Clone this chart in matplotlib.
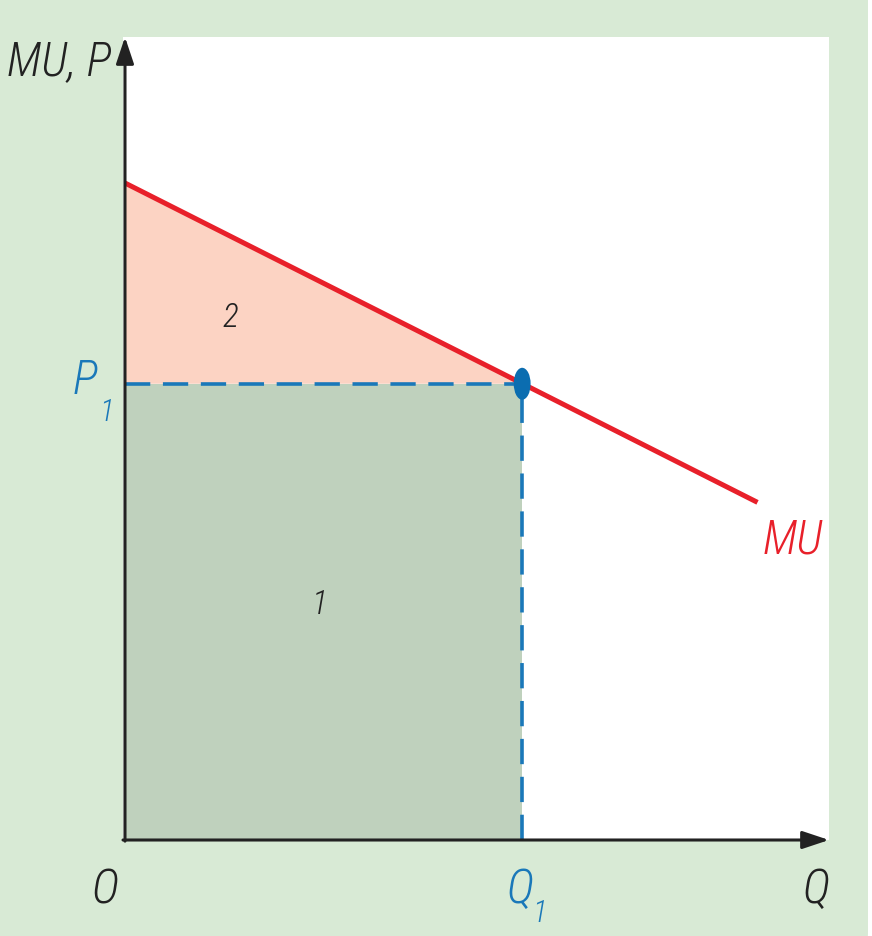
import matplotlib.pyplot as plt
from matplotlib.patches import Ellipse, Polygon, Rectangle, FancyBboxPatch
from matplotlib import font_manager

# values (arbitrary units)
q1 = 4.0
p1 = 4.0
mu_q = [0.0, 6.37]
mu_p = [5.76, 2.96]
x_max = 7.09
y_max = 7.04

bg = '#d8ead5'
red = '#e8202a'
blue = '#1a78b9'
dark = '#222222'

# a narrow italic sans, if one is installed
italic_fams = {f.name for f in font_manager.fontManager.ttflist if f.style == 'italic'}
all_fams = {f.name for f in font_manager.fontManager.ttflist}
wish = ['Roboto Condensed', 'Fira Sans Condensed', 'PT Sans Narrow', 'Archivo Narrow',
        'Liberation Sans Narrow', 'Encode Sans Condensed', 'IBM Plex Sans Condensed',
        'Barlow Semi Condensed', 'Open Sans Condensed']
fam = [w for w in wish if w in italic_fams][:1] or [w for w in wish if w in all_fams][:1] \
    or ['Liberation Sans']
fam = fam + ['DejaVu Sans']

fig = plt.figure(figsize=(8.72, 9.36), dpi=100, facecolor='white')
# green panel with a rounded lower right corner
panel = FancyBboxPatch((-100 / 872, -60 / 936), 968 / 872, 1100 / 936,
                       boxstyle='round,pad=0,rounding_size=0.07',
                       transform=fig.transFigure, facecolor=bg, edgecolor='none',
                       zorder=-10)
fig.patches.append(panel)

ax = fig.add_axes([123 / 872, 96 / 936, (829 - 123) / 872, (936 - 37 - 96) / 936])
ax.set_facecolor('white')
ax.set_xlim(-0.02, x_max)
ax.set_ylim(0, y_max)
for s in ax.spines.values():
    s.set_visible(False)
ax.set_xticks([])
ax.set_yticks([])

# area 1 and area 2
ax.add_patch(Rectangle((0, 0), q1, p1, facecolor='#bfd1bd', edgecolor='none', zorder=1))
ax.add_patch(Polygon([(0, p1), (0, mu_p[0]), (q1, p1)], closed=True,
                     facecolor='#fcd3c3', edgecolor='none', zorder=1))

# dashed guides
ax.plot([0, q1], [p1, p1], color=blue, lw=2.6, ls=(0, (7, 3.5)), zorder=2)
ax.plot([q1, q1], [0, p1], color=blue, lw=2.6, ls=(0, (7, 3.5)), zorder=2)

# MU line
ax.plot(mu_q, mu_p, color=red, lw=3.6, solid_capstyle='butt', zorder=3)

# equilibrium point
ax.add_patch(Ellipse((q1, p1), 0.17, 0.28, facecolor='#0b6db0', edgecolor='none', zorder=4))

# axes with arrows
arrow = dict(arrowstyle='-|>,head_length=0.9,head_width=0.3', lw=2.2,
             color=dark, mutation_scale=18, shrinkA=0, shrinkB=0)
ax.annotate('', xy=(0, y_max), xytext=(0, -0.01), arrowprops=arrow,
            annotation_clip=False, zorder=5)
ax.annotate('', xy=(x_max, 0), xytext=(-0.02, 0), arrowprops=arrow,
            annotation_clip=False, zorder=5)

kw = dict(family=fam, style='italic', weight='light', ha='center', va='center', clip_on=False)
ax.text(-0.66, 6.82, 'MU, P', fontsize=34, color=dark, **kw)
ax.text(-0.40, 4.02, 'P', fontsize=34, color=blue, **kw)
ax.text(-0.19, 3.75, '1', fontsize=22, color=blue, **kw)
ax.text(-0.20, -0.44, 'O', fontsize=34, color=dark, **kw)
ax.text(3.98, -0.44, 'Q', fontsize=34, color=blue, **kw)
ax.text(4.17, -0.64, '1', fontsize=22, color=blue, **kw)
ax.text(6.96, -0.44, 'Q', fontsize=34, color=dark, **kw)
ax.text(6.72, 2.63, 'MU', fontsize=34, color=red, **kw)
ax.text(1.06, 4.58, '2', fontsize=24, color=dark, **kw)
ax.text(1.96, 2.06, '1', fontsize=24, color=dark, **kw)

fig.savefig('out.png', dpi=100)
